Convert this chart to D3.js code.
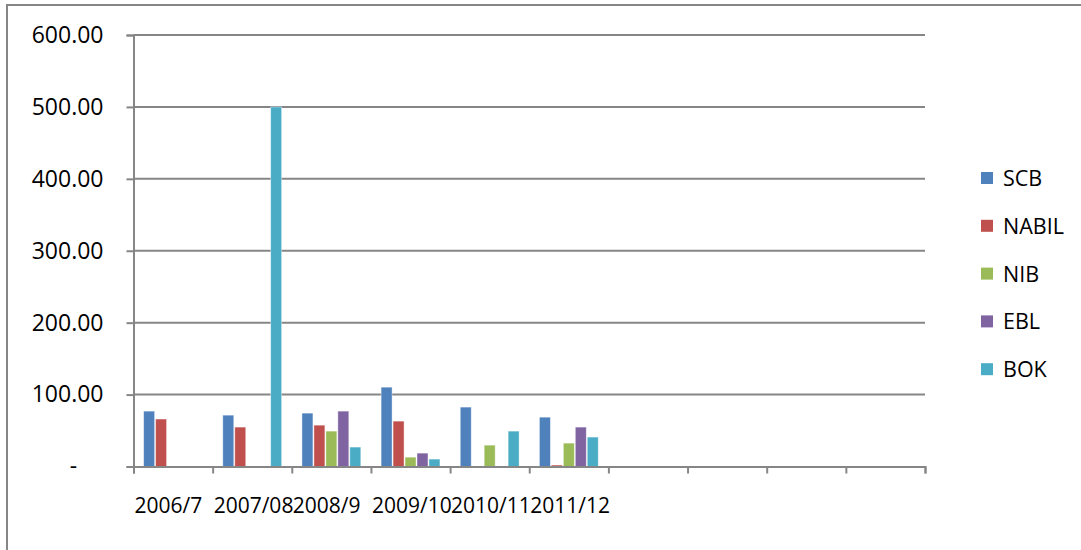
<!DOCTYPE html>
<html>
<head>
<meta charset="utf-8">
<script src="https://cdn.jsdelivr.net/npm/d3@7"></script>
<style>
  body { margin: 0; background: #fff; }
  text { font-family: "Open Sans", sans-serif; fill: #000; }
</style>
</head>
<body>
<div id="chart"></div>
<script>
// chart data
var categories = ["2006/7", "2007/08", "2008/9", "2009/10", "2010/11", "2011/12", "", "", "", ""];
var seriesNames = ["SCB", "NABIL", "NIB", "EBL", "BOK"];
var scb   = [77, 71.4, 74.2, 110.3, 82.6, 68.6];
var nabil = [66, 54.8, 57.5, 63.1, 0, 2];
var nib   = [0, 0, 49.2, 13, 29.7, 32.5];
var ebl   = [0, 0, 77, 18.6, 0, 54.8];
var bok   = [0, 500, 27, 10.3, 49.2, 40.9];
var yTicks = [0, 100, 200, 300, 400, 500, 600];

var colors = ["#4F81BD", "#C0504D", "#9BBB59", "#8064A2", "#4BACC6"];
var allSeries = [scb, nabil, nib, ebl, bok];

var svgWidth = 1081;
var svgHeight = 550;

var margin = { top: 35, left: 133.5, right: 156, bottom: 83.5 };
var width = svgWidth - margin.left - margin.right;
var height = svgHeight - margin.top - margin.bottom;

var svg = d3.select("#chart")
    .append("svg")
    .attr("width", svgWidth)
    .attr("height", svgHeight);

// outer frame (only top and left edges are visible)
svg.append("rect")
    .attr("x", 7).attr("y", 5)
    .attr("width", 1200).attr("height", 600)
    .attr("fill", "none")
    .attr("stroke", "#868686")
    .attr("stroke-width", 2);

var g = svg.append("g")
    .attr("transform", "translate(" + margin.left + "," + margin.top + ")");

var x = d3.scaleBand()
    .domain(d3.range(categories.length))
    .range([0, width]);

var xEdges = d3.scaleLinear()
    .domain([0, categories.length])
    .range([0, width]);

var xInner = d3.scaleBand()
    .domain(seriesNames)
    .range([x.bandwidth() * 0.122, x.bandwidth() * 0.878]);

var y = d3.scaleLinear()
    .domain([0, 600])
    .range([height, 0]);

// gridlines
g.append("g")
    .selectAll("line")
    .data(yTicks.filter(d => d > 0))
    .enter()
    .append("line")
    .attr("x1", 0).attr("x2", width)
    .attr("y1", d => y(d)).attr("y2", d => y(d))
    .attr("stroke", "#868686")
    .attr("stroke-width", 2);

// bars
var groups = g.selectAll(".grp")
    .data(categories.map((c, i) => i))
    .enter()
    .append("g")
    .attr("transform", d => "translate(" + x(d) + ",0)");

groups.selectAll("rect")
    .data(i => seriesNames.map((s, k) => ({ s: s, k: k, v: allSeries[k][i] || 0 })).filter(d => d.v > 0))
    .enter()
    .append("rect")
    .attr("x", d => xInner(d.s) + 0.5)
    .attr("width", xInner.bandwidth() - 1)
    .attr("y", d => y(d.v))
    .attr("height", d => height - y(d.v))
    .attr("fill", d => colors[d.k])
    .attr("stroke", "#fff")
    .attr("stroke-opacity", 0.5)
    .attr("stroke-width", 0.8);

// y axis
var yAxis = g.append("g")
    .call(d3.axisLeft(y)
        .tickValues(yTicks)
        .tickSize(7)
        .tickPadding(23)
        .tickFormat(d => d === 0 ? "-" : d.toFixed(2)));

yAxis.select(".domain").attr("stroke", "#868686").attr("stroke-width", 2);
yAxis.selectAll(".tick line").attr("stroke", "#868686").attr("stroke-width", 2);
yAxis.selectAll(".tick text")
    .style("font-size", "23px")
    .style("font-family", "'Open Sans', sans-serif")
    .attr("fill", "#000");
yAxis.selectAll(".tick text")
    .filter(d => d === 0)
    .attr("x", -60)
    .attr("text-anchor", "middle");

// x axis (ticks at category edges)
var xAxis = g.append("g")
    .attr("transform", "translate(0," + height + ")")
    .call(d3.axisBottom(xEdges)
        .tickValues(d3.range(categories.length + 1))
        .tickSize(7)
        .tickFormat(""));

xAxis.select(".domain").attr("stroke", "#868686").attr("stroke-width", 2);
xAxis.selectAll(".tick line").attr("stroke", "#868686").attr("stroke-width", 2);

g.append("g")
    .selectAll("text")
    .data(categories.map((c, i) => ({ c: c, i: i })))
    .enter()
    .append("text")
    .attr("x", d => x(d.i) + 1)
    .attr("y", height + 46)
    .attr("text-anchor", "start")
    .style("font-size", "21px")
    .text(d => d.c);

// legend
var legend = svg.append("g")
    .selectAll("g")
    .data(seriesNames)
    .enter()
    .append("g")
    .attr("transform", (d, i) => "translate(981," + (178 + i * 47.8) + ")");

legend.append("rect")
    .attr("x", 0).attr("y", -6)
    .attr("width", 12).attr("height", 12)
    .attr("fill", (d, i) => colors[i]);

legend.append("text")
    .attr("x", 22)
    .attr("y", 8)
    .style("font-size", "21.5px")
    .text(d => d);
</script>
</body>
</html>
